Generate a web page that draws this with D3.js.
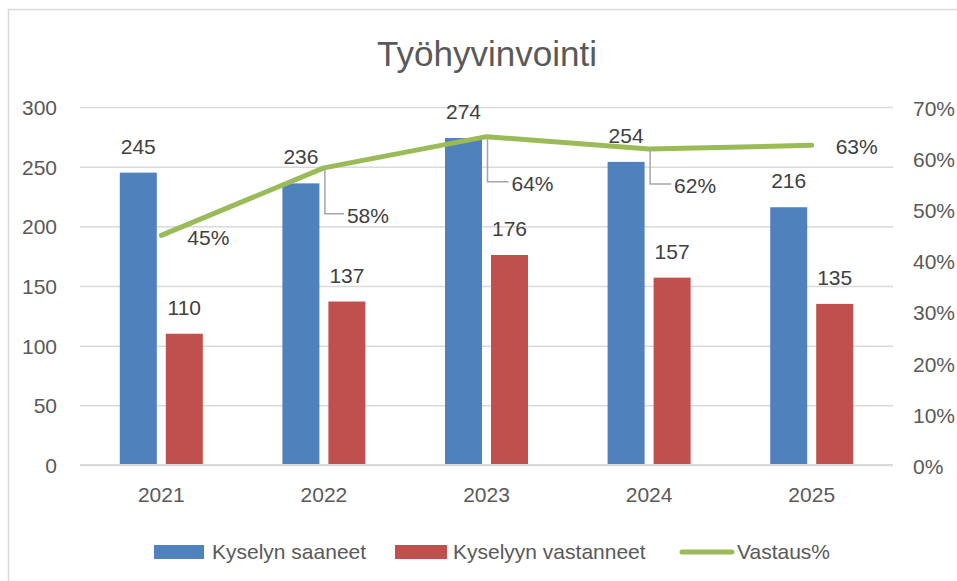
<!DOCTYPE html>
<html><head><meta charset="utf-8">
<script src="https://cdn.jsdelivr.net/npm/d3@7"></script>
<style>html,body{margin:0;padding:0;background:#fff;}svg{display:block;font-family:"Liberation Sans",Arial,sans-serif;}</style>
</head><body>
<svg id="c" width="957" height="581"></svg>
<script>
const title = "Työhyvinvointi";
const years = ["2021","2022","2023","2024","2025"];
const received = [245, 236, 274, 254, 216];
const answered = [110, 137, 176, 157, 135];
const rate = [0.449, 0.581, 0.642, 0.618, 0.625];
const rateLabels = ["45%","58%","64%","62%","63%"];
const leftTicks = [0,50,100,150,200,250,300];
const rightTicks = [0,0.1,0.2,0.3,0.4,0.5,0.6,0.7];
const seriesNames = ["Kyselyn saaneet","Kyselyyn vastanneet","Vastaus%"];
// label placement offsets for percent labels (dx to text start, dy to centre, leader?)
const pctLabelPos = [[26,2,false],[23,48,true],[25,47,true],[25,37,true],[24,1,false]];

const svg = d3.select("#c");
const W=957, H=581;
const blue="#4F81BD", red="#C0504D", green="#9BBB59", grid="#D9D9D9";

svg.append("rect").attr("x",8.5).attr("y",9.5).attr("width",W+10).attr("height",H+10)
  .attr("fill","none").attr("stroke","#D9D9D9").attr("stroke-width",1.5);

svg.append("text").attr("x",487).attr("y",66).attr("text-anchor","middle")
  .attr("font-size",35).attr("fill","#595959").text(title);

const x0=80, x1=893, yTop=107, yBot=465;
const x = d3.scaleBand().domain(years).range([x0,x1]).paddingInner(0).paddingOuter(0);
const y = d3.scaleLinear().domain([0,300]).range([yBot,yTop]);
const y2 = d3.scaleLinear().domain([0,0.7]).range([yBot,yTop]);
const barW=37, gap=9;

// gridlines
const gAxL = svg.append("g").attr("transform",`translate(${x0},0)`)
  .call(d3.axisLeft(y).tickValues(leftTicks).tickSize(-(x1-x0)).tickPadding(23).tickFormat(d3.format("d")));
gAxL.select(".domain").remove();
gAxL.selectAll(".tick line").attr("stroke",grid).attr("stroke-width",1.5);
gAxL.selectAll(".tick text").attr("font-size",21).attr("fill","#595959").attr("font-family","Liberation Sans, Arial, sans-serif").attr("dy","0.35em");

const gAxR = svg.append("g").attr("transform",`translate(${x1},0)`)
  .call(d3.axisRight(y2).tickValues(rightTicks).tickSize(0).tickPadding(20).tickFormat(d3.format(".0%")));
gAxR.select(".domain").remove();
gAxR.selectAll(".tick text").attr("font-size",21).attr("fill","#595959").attr("font-family","Liberation Sans, Arial, sans-serif").attr("dy","0.4em");

// bars
const cx = d => x(d)+x.bandwidth()/2;
svg.append("g").selectAll("rect").data(years).join("rect")
  .attr("x",d=>cx(d)-gap/2-barW).attr("width",barW)
  .attr("y",(d,i)=>y(received[i])).attr("height",(d,i)=>yBot-y(received[i])).attr("fill",blue);
svg.append("g").selectAll("rect").data(years).join("rect")
  .attr("x",d=>cx(d)+gap/2).attr("width",barW)
  .attr("y",(d,i)=>y(answered[i])).attr("height",(d,i)=>yBot-y(answered[i])).attr("fill",red);

// baseline
svg.append("line").attr("x1",x0).attr("x2",x1).attr("y1",yBot).attr("y2",yBot).attr("stroke",grid).attr("stroke-width",2);

// x labels
const gAxB = svg.append("g").attr("transform",`translate(0,${yBot})`)
  .call(d3.axisBottom(x).tickSize(0).tickPadding(22));
gAxB.select(".domain").remove();
gAxB.selectAll(".tick text").attr("font-size",21).attr("fill","#595959").attr("font-family","Liberation Sans, Arial, sans-serif");

// bar labels
svg.append("g").selectAll("text").data(years).join("text")
  .attr("x",d=>cx(d)-gap/2-barW/2).attr("y",(d,i)=>y(received[i])-19)
  .attr("text-anchor","middle").attr("font-size",21).attr("fill","#404040").text((d,i)=>received[i]);
svg.append("g").selectAll("text").data(years).join("text")
  .attr("x",d=>cx(d)+gap/2+barW/2).attr("y",(d,i)=>y(answered[i])-19)
  .attr("text-anchor","middle").attr("font-size",21).attr("fill","#404040").text((d,i)=>answered[i]);

// line
const line = d3.line().x((d,i)=>cx(years[i])).y(d=>y2(d));
svg.append("path").datum(rate).attr("d",line).attr("fill","none").attr("stroke",green)
  .attr("stroke-width",5).attr("stroke-linecap","round").attr("stroke-linejoin","round");

// leader lines and pct labels
rate.forEach((r,i)=>{
  const px=cx(years[i]), py=y2(r), p=pctLabelPos[i];
  if(p[2]){
    svg.append("path").attr("d",`M${px+1},${py} V${py+p[1]-2} H${px+p[0]-3}`)
      .attr("fill","none").attr("stroke","#A6A6A6").attr("stroke-width",1.5);
  }
  svg.append("text").attr("x",px+p[0]).attr("y",py+p[1]).attr("dy","0.35em")
    .attr("font-size",21).attr("fill","#404040").text(rateLabels[i]);
});

// legend
const lg = svg.append("g");
const legendX = [154, 395, 680];
const legendTextX = [212, 453, 737];
lg.append("rect").attr("x",legendX[0]).attr("y",545).attr("width",50).attr("height",14).attr("fill",blue);
lg.append("rect").attr("x",legendX[1]).attr("y",545).attr("width",52).attr("height",14).attr("fill",red);
lg.append("line").attr("x1",legendX[2]+2).attr("x2",legendX[2]+52).attr("y1",552).attr("y2",552)
  .attr("stroke",green).attr("stroke-width",5).attr("stroke-linecap","round");
seriesNames.forEach((n,i)=>{
  lg.append("text").attr("x",legendTextX[i]).attr("y",552).attr("dy","0.35em")
    .attr("font-size",21).attr("fill","#595959").text(n);
});
</script>
</body></html>
